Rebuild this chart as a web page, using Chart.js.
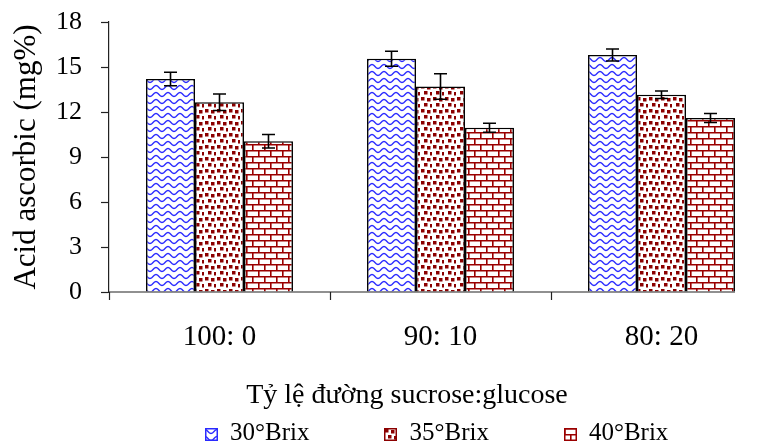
<!DOCTYPE html>
<html>
<head>
<meta charset="utf-8">
<script src="https://cdn.jsdelivr.net/npm/chart.js@4.4.1/dist/chart.umd.min.js"></script>
<style>
  body { margin: 0; background: #fff; }
  #wrap { position: relative; width: 760px; height: 443px; overflow: hidden; }
  #chart { position: absolute; left: 0; top: 0; }
  .serif { font-family: "Liberation Serif", "Times New Roman", serif; color: #000; white-space: nowrap; }
  #xtitle { position: absolute; left: 0; width: 814px; top: 379px; text-align: center; font-size: 28px; line-height: 30px; }
  #legend { position: absolute; left: 205px; top: 417px; display: flex; gap: 75px; font-size: 25px; line-height: 30px; }
  .item { display: flex; align-items: center; }
  .item canvas { margin-right: 12px; margin-top: 4px; }
</style>
</head>
<body>
<div id="wrap">
  <canvas id="chart" width="780" height="443"></canvas>
  <div id="xtitle" class="serif">Tỷ lệ đường sucrose:glucose</div>
  <div id="legend" class="serif"></div>
</div>
<script>
const categories = ["100: 0", "90: 10", "80: 20"];
const seriesNames = ["30°Brix", "35°Brix", "40°Brix"];
const brix30 = [14.2, 15.55, 15.8];
const brix35 = [12.65, 13.7, 13.15];
const brix40 = [10.05, 10.95, 11.6];
const err30 = [0.45, 0.5, 0.4];
const err35 = [0.55, 0.85, 0.25];
const err40 = [0.45, 0.3, 0.3];
const yTicks = [0, 3, 6, 9, 12, 15, 18];

const FONT = "'Liberation Serif', 'Times New Roman', serif";
const canvas = document.getElementById("chart");
const ctx = canvas.getContext("2d");

// fill patterns
function tile(w, h, draw) {
  const c = document.createElement("canvas");
  c.width = w;
  c.height = h;
  const g = c.getContext("2d");
  g.fillStyle = "#fff";
  g.fillRect(0, 0, w, h);
  draw(g);
  return c;
}

const waveTile = tile(12, 7, (g) => {
  g.strokeStyle = "#2a2aff";
  g.lineWidth = 1.4;
  g.beginPath();
  for (let x = -1; x <= 13; x += 0.5) {
    const yy = 3.5 - 2 * Math.cos((x / 12) * 2 * Math.PI);
    x === -1 ? g.moveTo(x, yy) : g.lineTo(x, yy);
  }
  g.stroke();
});

const dotTile = tile(12, 12, (g) => {
  g.fillStyle = "#8b0000";
  [[1, 1], [7, 2], [4, 7], [10, 8]].forEach(([x, y]) => g.fillRect(x, y, 3.5, 3.5));
});

const brickTile = tile(12, 12, (g) => {
  g.strokeStyle = "#9a0000";
  g.lineWidth = 1.6;
  g.beginPath();
  g.moveTo(0, 0.8); g.lineTo(12, 0.8);
  g.moveTo(0, 6.8); g.lineTo(12, 6.8);
  g.moveTo(0.8, 0); g.lineTo(0.8, 6.8);
  g.moveTo(6.8, 6.8); g.lineTo(6.8, 12);
  g.stroke();
});

const tiles = [waveTile, dotTile, brickTile];
const swatchBorders = ["#2a2aff", "#8b0000", "#9a0000"];
const patterns = tiles.map((t) => ctx.createPattern(t, "repeat"));

// error bars + x axis line ending at the last bar
const errorBars = {
  id: "errorBars",
  afterDatasetsDraw(chart) {
    const { ctx, chartArea, scales: { y } } = chart;
    ctx.save();
    const last = chart.getDatasetMeta(chart.data.datasets.length - 1).data;
    const endX = last[last.length - 1].x + last[last.length - 1].width / 2;
    ctx.strokeStyle = "#222";
    ctx.lineWidth = 1.2;
    ctx.beginPath();
    ctx.moveTo(chartArea.left, chartArea.bottom);
    ctx.lineTo(endX, chartArea.bottom);
    ctx.stroke();

    ctx.strokeStyle = "#000";
    ctx.lineWidth = 1.6;
    chart.data.datasets.forEach((ds, i) => {
      chart.getDatasetMeta(i).data.forEach((bar, j) => {
        const hi = y.getPixelForValue(ds.data[j] + ds.errors[j]);
        const lo = y.getPixelForValue(ds.data[j] - ds.errors[j]);
        ctx.beginPath();
        ctx.moveTo(bar.x, hi); ctx.lineTo(bar.x, lo);
        ctx.moveTo(bar.x - 6.5, hi); ctx.lineTo(bar.x + 6.5, hi);
        ctx.moveTo(bar.x - 6.5, lo); ctx.lineTo(bar.x + 6.5, lo);
        ctx.stroke();
      });
    });
    ctx.restore();
  },
};

const values = [brix30, brix35, brix40];
const errors = [err30, err35, err40];

const chart = new Chart(ctx, {
  type: "bar",
  data: {
    labels: categories,
    datasets: seriesNames.map((name, i) => ({
      label: name,
      data: values[i],
      errors: errors[i],
      backgroundColor: patterns[i],
      borderColor: "#000",
      borderWidth: 1.6,
      borderSkipped: "bottom",
      barPercentage: 1,
      categoryPercentage: 0.665,
    })),
  },
  options: {
    responsive: false,
    devicePixelRatio: 1,
    animation: false,
    layout: { padding: { top: 22, right: 8, left: 0, bottom: 0 } },
    plugins: {
      legend: { display: false },
      tooltip: { enabled: false },
    },
    scales: {
      x: {
        offset: true,
        afterFit(scale) { scale.height = 151; },
        grid: { offset: true, drawOnChartArea: false, tickLength: 8, tickColor: "#222", tickWidth: 1.2 },
        border: { display: false },
        ticks: { font: { family: FONT, size: 29 }, color: "#000", padding: 20, maxRotation: 0 },
      },
      y: {
        min: 0,
        max: 18,
        afterFit(scale) {
          scale.width = 109;
          scale.paddingTop = 0;
          scale.paddingBottom = 0;
        },
        afterBuildTicks(scale) { scale.ticks = yTicks.map((v) => ({ value: v })); },
        grid: { drawOnChartArea: false, tickLength: 8, tickColor: "#222", tickWidth: 1.2 },
        border: { color: "#222", width: 1.2 },
        ticks: { font: { family: FONT, size: 26 }, color: "#000", padding: 19 },
        title: {
          display: true,
          text: "Acid ascorbic (mg%)",
          font: { family: FONT, size: 31 },
          color: "#000",
          padding: { top: 8, bottom: 0 },
        },
      },
    },
  },
  plugins: [errorBars],
});

// legend
const legend = document.getElementById("legend");
seriesNames.forEach((name, i) => {
  const item = document.createElement("div");
  item.className = "item";
  const sw = document.createElement("canvas");
  sw.width = 13;
  sw.height = 13;
  const g = sw.getContext("2d");
  g.fillStyle = g.createPattern(tiles[i], "repeat");
  g.fillRect(0, 0, 13, 13);
  g.strokeStyle = swatchBorders[i];
  g.lineWidth = 1.5;
  g.strokeRect(0.75, 0.75, 11.5, 11.5);
  item.appendChild(sw);
  const span = document.createElement("span");
  span.textContent = name;
  item.appendChild(span);
  legend.appendChild(item);
});
</script>
</body>
</html>
